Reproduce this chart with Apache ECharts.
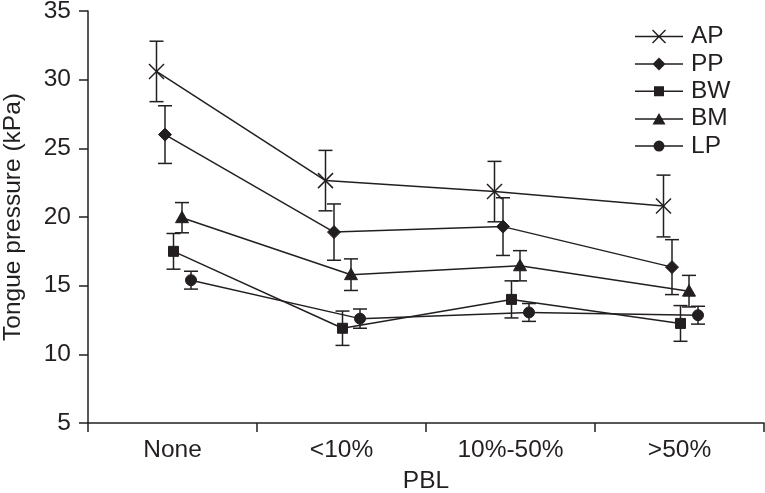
<!DOCTYPE html>
<html>
<head>
<meta charset="utf-8">
<script src="https://cdn.jsdelivr.net/npm/echarts@6/dist/echarts.min.js"></script>
<style>html,body{margin:0;padding:0;background:#fff;}#c{width:765px;height:493px;}</style>
</head>
<body>
<div id="c"></div>
<script>
const categories = ['None', '<10%', '10%-50%', '>50%'];
const yTicks = { min: 5, max: 35, interval: 5 };
const AP = [30.6, 22.65, 21.85, 20.8];
const AP_err = [2.2, 2.2, 2.2, 2.25];
const PP = [26.0, 18.9, 19.3, 16.35];
const PP_err = [2.1, 2.05, 2.1, 2.0];
const BW = [17.5, 11.9, 14.0, 12.25];
const BW_err = [1.3, 1.25, 1.35, 1.3];
const BM = [19.95, 15.8, 16.45, 14.6];
const BM_err = [1.1, 1.15, 1.1, 1.15];
const LP = [15.4, 12.6, 13.05, 12.85];
const LP_err = [0.65, 0.7, 0.65, 0.65];

const INK = '#231f20';
const FONT = 'Liberation Sans, Arial, sans-serif';
const FS = 24.5;

const groups = [
  { name: 'AP', values: AP, errs: AP_err, marker: 'cross', dx: -16 },
  { name: 'PP', values: PP, errs: PP_err, marker: 'diamond', dx: -7.5 },
  { name: 'BW', values: BW, errs: BW_err, marker: 'square', dx: 1 },
  { name: 'BM', values: BM, errs: BM_err, marker: 'triangle', dx: 9.5 },
  { name: 'LP', values: LP, errs: LP_err, marker: 'circle', dx: 18.5 }
];

const legendIcons = {
  cross: 'path://M0,6.25L48,6.25L48,7.75L0,7.75Z M17,1L18,0L31,13L30,14Z M30,0L31,1L18,14L17,13Z',
  diamond: 'path://M0,6.25L48,6.25L48,7.75L0,7.75Z M24,0.5L30.5,7L24,13.5L17.5,7Z',
  square: 'path://M0,6.25L48,6.25L48,7.75L0,7.75Z M19,2L29,2L29,12L19,12Z',
  triangle: 'path://M0,6.25L48,6.25L48,7.75L0,7.75Z M24,1L30.5,12.5L17.5,12.5Z',
  circle: 'path://M0,6.25L48,6.25L48,7.75L0,7.75Z M29.5,7A5.5,5.5 0 1 1 18.5,7A5.5,5.5 0 1 1 29.5,7Z'
};

function markerShape(type, x, y) {
  const st = { fill: INK, stroke: INK, lineWidth: 1 };
  switch (type) {
    case 'cross':
      return [
        { type: 'line', shape: { x1: x - 7.5, y1: y - 7.5, x2: x + 7.5, y2: y + 7.5 }, style: { stroke: INK, lineWidth: 1.5 } },
        { type: 'line', shape: { x1: x + 7.5, y1: y - 7.5, x2: x - 7.5, y2: y + 7.5 }, style: { stroke: INK, lineWidth: 1.5 } }
      ];
    case 'diamond':
      return [{ type: 'polygon', shape: { points: [[x, y - 6.5], [x + 6.5, y], [x, y + 6.5], [x - 6.5, y]] }, style: st }];
    case 'square':
      return [{ type: 'rect', shape: { x: x - 5, y: y - 5, width: 10, height: 10 }, style: st }];
    case 'triangle':
      return [{ type: 'polygon', shape: { points: [[x, y - 6.5], [x + 6.5, y + 5], [x - 6.5, y + 5]] }, style: st }];
    case 'circle':
      return [{ type: 'circle', shape: { cx: x, cy: y, r: 5.5 }, style: st }];
  }
  return [];
}

function makeSeries(g) {
  const data = g.values.map((v, i) => [i, v, g.errs[i]]);
  return {
    name: g.name,
    type: 'custom',
    clip: false,
    itemStyle: { color: INK },
    data: data,
    encode: { x: 0, y: 1 },
    renderItem: function (params, api) {
      const i = api.value(0);
      const v = api.value(1);
      const e = api.value(2);
      const p = api.coord([i, v]);
      const x = p[0] + g.dx, y = p[1];
      const top = api.coord([i, v + e])[1];
      const bot = api.coord([i, v - e])[1];
      const children = [];
      const ls = { stroke: INK, lineWidth: 1.5 };
      if (params.dataIndex > 0) {
        const j = params.dataIndex - 1;
        const q = api.coord([j, g.values[j]]);
        children.push({ type: 'line', shape: { x1: q[0] + g.dx, y1: q[1], x2: x, y2: y }, style: ls });
      }
      children.push({ type: 'line', shape: { x1: x, y1: top, x2: x, y2: bot }, style: ls });
      children.push({ type: 'line', shape: { x1: x - 7, y1: top, x2: x + 7, y2: top }, style: ls });
      children.push({ type: 'line', shape: { x1: x - 7, y1: bot, x2: x + 7, y2: bot }, style: ls });
      markerShape(g.marker, x, y).forEach(c => children.push(c));
      return { type: 'group', children: children };
    }
  };
}

const chart = echarts.init(document.getElementById('c'), null, { renderer: 'canvas' });
chart.setOption({
  animation: false,
  backgroundColor: '#fff',
  textStyle: { fontFamily: FONT, color: INK },
  grid: { left: 88, right: 1, top: 11, bottom: 70, containLabel: false, outerBoundsMode: 'none' },
  legend: {
    orient: 'vertical',
    left: 630,
    top: 19,
    itemWidth: 48,
    itemHeight: 14,
    itemGap: 2.4,
    selectedMode: false,
    data: groups.map(g => ({ name: g.name, icon: legendIcons[g.marker], itemStyle: { color: INK } })),
    textStyle: { fontFamily: FONT, fontSize: FS, color: INK, padding: [0, 0, 0, 3], lineHeight: 24 }
  },
  xAxis: {
    type: 'category',
    data: categories,
    boundaryGap: true,
    name: 'PBL',
    nameLocation: 'middle',
    nameGap: 46,
    nameTextStyle: { fontFamily: FONT, fontSize: FS, color: INK },
    axisLine: { lineStyle: { color: INK, width: 1.5 } },
    axisTick: { show: true, length: 9, alignWithLabel: false, lineStyle: { color: INK, width: 1.5 } },
    axisLabel: { fontFamily: FONT, fontSize: FS, color: INK, margin: 15 },
    splitLine: { show: false }
  },
  yAxis: {
    type: 'value',
    min: yTicks.min,
    max: yTicks.max,
    interval: yTicks.interval,
    name: 'Tongue pressure (kPa)',
    nameLocation: 'middle',
    nameGap: 62,
    nameRotate: 90,
    nameTextStyle: { fontFamily: FONT, fontSize: FS, color: INK },
    axisLine: { show: true, lineStyle: { color: INK, width: 1.5 } },
    axisTick: { show: true, length: 9, lineStyle: { color: INK, width: 1.5 } },
    axisLabel: { fontFamily: FONT, fontSize: FS, color: INK, margin: 17 },
    splitLine: { show: false }
  },
  series: groups.map(makeSeries)
});
</script>
</body>
</html>
